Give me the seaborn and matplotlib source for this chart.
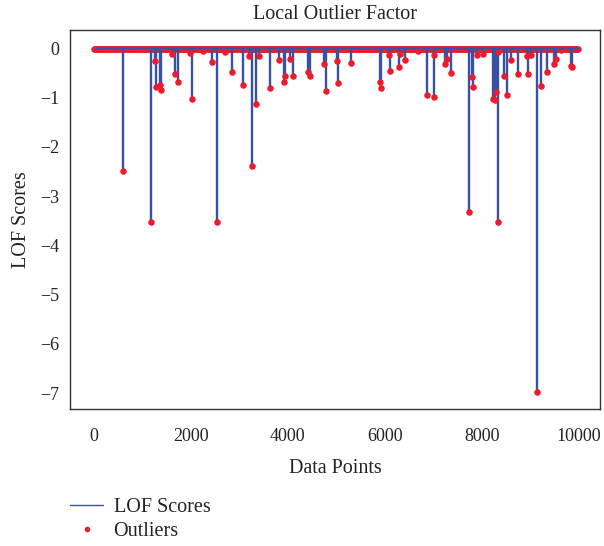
import numpy as np
import pandas as pd
import matplotlib
matplotlib.use("Agg")
import matplotlib.pyplot as plt
from matplotlib.lines import Line2D
import seaborn as sns

# Indices and LOF scores of the flagged points
outlier_idx = [608, 1190, 1259, 1293, 1361, 1382, 1614, 1669, 1738, 1977,
               2032, 2250, 2436, 2545, 2710, 2847, 3072, 3210, 3264, 3347,
               3415, 3641, 3812, 3928, 3949, 4051, 4099, 4408, 4462, 4749,
               4784, 5023, 5040, 5310, 5899, 5926, 6098, 6119, 6290, 6324,
               6413, 6680, 6871, 7008, 7020, 7248, 7281, 7364, 7747, 7795,
               7829, 7911, 8035, 8226, 8275, 8300, 8330, 8343, 8460, 8528,
               8596, 8747, 8924, 8959, 9027, 9144, 9232, 9355, 9493, 9528,
               9643, 9848, 9860]
outlier_score = [-2.50, -3.52, -0.26, -0.78, -0.75, -0.85, -0.11, -0.53, -0.69, -0.09,
                 -1.02, -0.06, -0.28, -3.52, -0.07, -0.48, -0.75, -0.16, -2.39, -1.14,
                 -0.16, -0.80, -0.24, -0.68, -0.56, -0.22, -0.56, -0.49, -0.56, -0.32,
                 -0.86, -0.26, -0.70, -0.30, -0.69, -0.80, -0.13, -0.47, -0.38, -0.11,
                 -0.23, -0.05, -0.95, -0.99, -0.13, -0.31, -0.21, -0.50, -3.32, -0.58,
                 -0.78, -0.14, -0.11, -1.02, -1.05, -0.88, -3.52, -0.07, -0.57, -0.94,
                 -0.24, -0.53, -0.16, -0.53, -0.14, -6.98, -0.76, -0.48, -0.31, -0.21,
                 -0.04, -0.36, -0.38]

# Regular points sit on a flat score level
n_points = 10000
inlier_step = 20
inlier_level = -0.02

x_ticks = [0, 2000, 4000, 6000, 8000, 10000]
y_ticks = [0, -1, -2, -3, -4, -5, -6, -7]

stem_color = "#3752a5"
dot_color = "#ec1c2c"
text_color = "#222222"

sns.set_theme(style="white")
plt.rcParams["font.family"] = ["Liberation Serif", "DejaVu Serif"]
plt.rcParams["axes.unicode_minus"] = True

inliers = pd.DataFrame({"index": np.arange(0, n_points, inlier_step)})
inliers["score"] = inlier_level
outliers = pd.DataFrame({"index": outlier_idx, "score": outlier_score})

fig = plt.figure(figsize=(6.04, 5.46), dpi=100)
ax = fig.add_axes([0.1159, 0.2509, 0.8775, 0.6941])

# dense band of regular points
sns.scatterplot(data=inliers, x="index", y="score", ax=ax, color=dot_color,
                s=22, linewidth=0, legend=False, zorder=2)
# stems from zero down to each flagged score
ax.vlines(outliers["index"], 0, outliers["score"], color=stem_color,
          linewidth=1.7, zorder=3)
sns.scatterplot(data=outliers, x="index", y="score", ax=ax, color=dot_color,
                s=22, linewidth=0, legend=False, zorder=4)
ax.hlines(0, 0, n_points - 1, color=stem_color, linewidth=0.9, zorder=5)

ax.set_xlim(-490, 10440)
ax.set_ylim(-7.32, 0.37)
ax.set_xticks(x_ticks)
ax.set_yticks(y_ticks)
ax.tick_params(axis="both", length=0, labelsize=13, colors=text_color)
ax.tick_params(axis="x", pad=14)
ax.tick_params(axis="y", pad=8)
for spine in ax.spines.values():
    spine.set_color("#333333")
    spine.set_linewidth(1.0)

ax.set_title("Local Outlier Factor", fontsize=14.5, color=text_color, pad=8)
ax.set_xlabel("Data Points", fontsize=14.5, color=text_color, labelpad=9.5)
ax.set_ylabel("LOF Scores", fontsize=14.5, color=text_color, labelpad=6)

handles = [Line2D([], [], color=stem_color, linewidth=1.0),
           Line2D([], [], color=dot_color, marker="o", linestyle="none",
                  markersize=3)]
fig.legend(handles, ["LOF Scores", "Outliers"], loc="upper left",
           bbox_to_anchor=(0.103, 0.102), frameon=False, fontsize=14.5,
           handlelength=1.65, handletextpad=0.5, labelspacing=0.2,
           borderaxespad=0, labelcolor=text_color)

fig.savefig("out.png", dpi=100, facecolor="white")
